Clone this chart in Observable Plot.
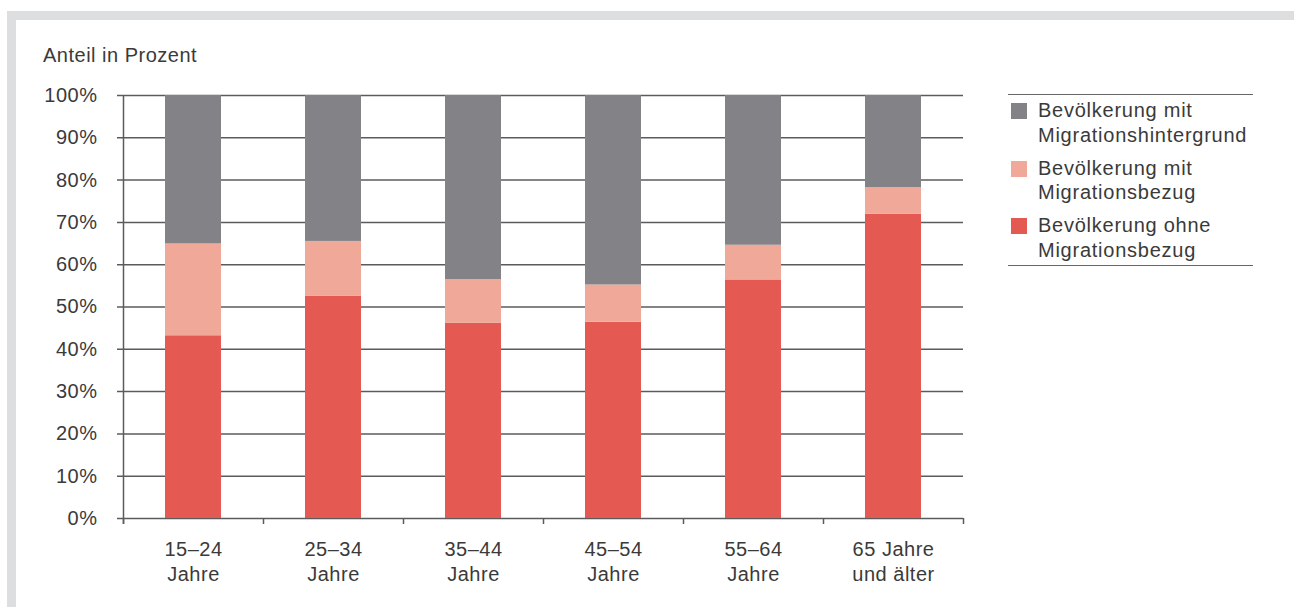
<!DOCTYPE html>
<html><head><meta charset="utf-8">
<script src="https://cdn.jsdelivr.net/npm/d3@7"></script>
<script src="https://cdn.jsdelivr.net/npm/@observablehq/plot@0.6"></script>
<style>
body{margin:0;background:#fff;font-family:"Liberation Sans",Arial,sans-serif;color:#3a3a3a;overflow:hidden;}
#frame{position:absolute;left:7px;top:11px;width:1400px;height:620px;border:9px solid #dddedf;box-sizing:border-box;}
#chart{position:absolute;left:0;top:0;}
#ylabel{position:absolute;left:43px;top:43px;font-size:20px;letter-spacing:0.5px;line-height:25px;}
#legend{position:absolute;left:1008px;top:94px;width:245px;border-top:1.5px solid #666;border-bottom:1.5px solid #666;padding:3px 0 3px 0;font-size:20px;letter-spacing:0.75px;line-height:24.5px;}
.item{position:relative;padding-left:30px;height:49px;margin-bottom:8.5px;}
.item:last-child{margin-bottom:0;}
.sw{position:absolute;left:3px;top:5px;width:16px;height:16px;}
</style></head><body>
<div id="frame"></div>
<div id="chart"></div>
<div id="ylabel">Anteil in Prozent</div>
<div id="legend"></div>
<script>
const categories = ["15–24 Jahre", "25–34 Jahre", "35–44 Jahre", "45–54 Jahre", "55–64 Jahre", "65 Jahre und älter"];
const tickLabels = ["15–24\nJahre", "25–34\nJahre", "35–44\nJahre", "45–54\nJahre", "55–64\nJahre", "65 Jahre\nund älter"];
const series = ["Bevölkerung ohne Migrationsbezug", "Bevölkerung mit Migrationsbezug", "Bevölkerung mit Migrationshintergrund"];
const legendLabels = [["Bevölkerung ohne", "Migrationsbezug"], ["Bevölkerung mit", "Migrationsbezug"], ["Bevölkerung mit", "Migrationshintergrund"]];
const ohneBezug = [43.2, 52.5, 46.2, 46.4, 56.4, 71.9];
const mitBezug = [21.7, 13.0, 10.3, 8.8, 8.2, 6.3];
const mitHintergrund = [35.1, 34.5, 43.5, 44.8, 35.4, 21.8];
const colors = ["#e45a52", "#f0a998", "#838387"];
const yTicks = [0, 10, 20, 30, 40, 50, 60, 70, 80, 90, 100];

const seriesValues = [ohneBezug, mitBezug, mitHintergrund];
const rows = categories.flatMap((c, i) => series.map((s, j) => ({category: c, series: s, value: seriesValues[j][i]})));

const lineColor = "#5b5b5d";
const chart = Plot.plot({
  width: 1294, height: 607,
  marginLeft: 123, marginRight: 331, marginTop: 95, marginBottom: 89,
  style: {background: "transparent", fontFamily: "'Liberation Sans', Arial, sans-serif", fontSize: "20px", color: "#3a3a3a", letterSpacing: "0.5px", overflow: "visible"},
  x: {domain: categories, paddingInner: 0.6, paddingOuter: 0.3, axis: null},
  y: {domain: [0, 100], ticks: yTicks, tickSize: 0, tickPadding: 26, tickFormat: d => d + "%", label: null},
  color: {domain: series, range: colors},
  marks: [
    Plot.ruleY(yTicks, {stroke: lineColor, strokeWidth: 1.5, insetLeft: -6}),
    Plot.barY(rows, {x: "category", y: "value", fill: "series"}),
    Plot.ruleX([categories[0]], {stroke: lineColor, strokeWidth: 1.5, dx: -70, insetBottom: -6}),
    Plot.ruleX(categories, {y1: 0, y2: 0, stroke: lineColor, strokeWidth: 1.5, dx: -70, insetBottom: -6}),
    Plot.ruleX([categories[categories.length - 1]], {y1: 0, y2: 0, stroke: lineColor, strokeWidth: 1.5, dx: 70, insetBottom: -6}),
    Plot.text(categories, {x: d => d, text: d => tickLabels[categories.indexOf(d)], frameAnchor: "bottom", lineAnchor: "top", lineHeight: 1.25, dy: 20, fill: "#3a3a3a", fontSize: 20})
  ]
});
document.getElementById("chart").appendChild(chart);

const legend = document.getElementById("legend");
[2, 1, 0].forEach(j => {
  const it = document.createElement("div");
  it.className = "item";
  it.innerHTML = `<span class="sw" style="background:${colors[j]}"></span>${legendLabels[j][0]}<br>${legendLabels[j][1]}`;
  legend.appendChild(it);
});
</script>
</body></html>
